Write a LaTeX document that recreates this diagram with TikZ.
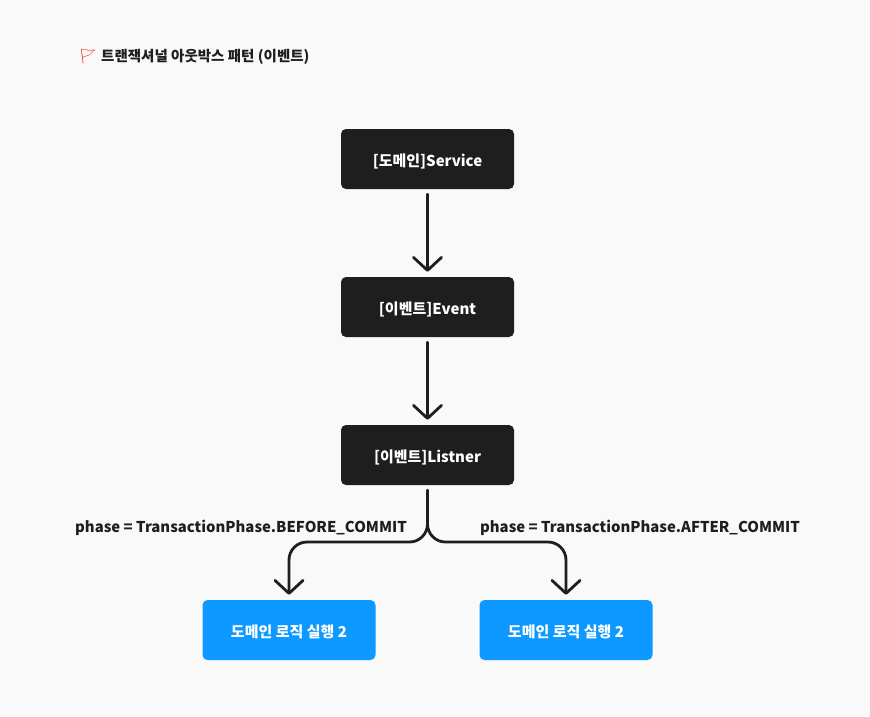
\documentclass[tikz,border=0pt]{standalone}
\usepackage{fontspec}
\setmainfont{Noto Sans CJK KR}
\newfontfamily\emoji{Noto Emoji}
\usetikzlibrary{arrows.meta}
\definecolor{bg}{HTML}{F9F9F9}
\definecolor{boxdark}{HTML}{1E1E1E}
\definecolor{boxblue}{HTML}{0D99FF}
\definecolor{flagred}{HTML}{E8302F}
\newcommand{\dn}[1]{\raisebox{-2pt}[\height][\depth]{#1}}
\begin{document}
\begin{tikzpicture}[x=1pt,y=-1pt,
  darkbox/.style={fill=boxdark,rounded corners=5pt,minimum width=173pt,minimum height=60pt,inner sep=0pt,text=white,font=\bfseries\fontsize{15}{18}\selectfont},
  bluebox/.style={darkbox,fill=boxblue},
  conn/.style={draw=boxdark,line width=2.8pt,line cap=round,line join=round,-{Straight Barb[length=13pt,width=28pt,line cap=round,line join=round]},shorten >=5pt,shorten <=5pt},
  branch/.style={conn,rounded corners=18pt},
  lbl/.style={font=\bfseries\fontsize{14.9}{18}\selectfont,text=boxdark,inner sep=0pt},
  ttl/.style={lbl,font=\bfseries\fontsize{14.5}{17}\selectfont},
]
\fill[bg] (0,0) rectangle (870,716);
\useasboundingbox (0,0) rectangle (870,716);
\node[ttl,anchor=west,text=flagred] (flag) at (79,55) {\dn{\emoji 🚩}};
\node[ttl,anchor=west] (title) at (101,55) {\dn{트랜잭셔널 아웃박스 패턴 (이벤트)}};
\node[darkbox] (svc) at (427.5,159) {\dn{[도메인]Service}};
\node[darkbox] (evt) at (427.5,307) {\dn{[이벤트]Event}};
\node[darkbox] (lis) at (427.5,455) {\dn{[이벤트]Listner}};
\node[bluebox] (b1) at (289,630) {\dn{도메인 로직 실행 2}};
\node[bluebox] (b2) at (566,630) {\dn{도메인 로직 실행 2}};
\node[lbl] (l1) at (241,526) {\dn{phase = TransactionPhase.BEFORE\_COMMIT}};
\node[lbl] (l2) at (640,526) {\dn{phase = TransactionPhase.AFTER\_COMMIT}};
\coordinate (jl) at (289,542);
\coordinate (jr) at (566,542);
\draw[conn] (svc) -- (evt);
\draw[conn] (evt) -- (lis);
\draw[branch] (lis.south) |- (jl) -- (b1.north);
\draw[branch] (lis.south) |- (jr) -- (b2.north);
\end{tikzpicture}
\end{document}
